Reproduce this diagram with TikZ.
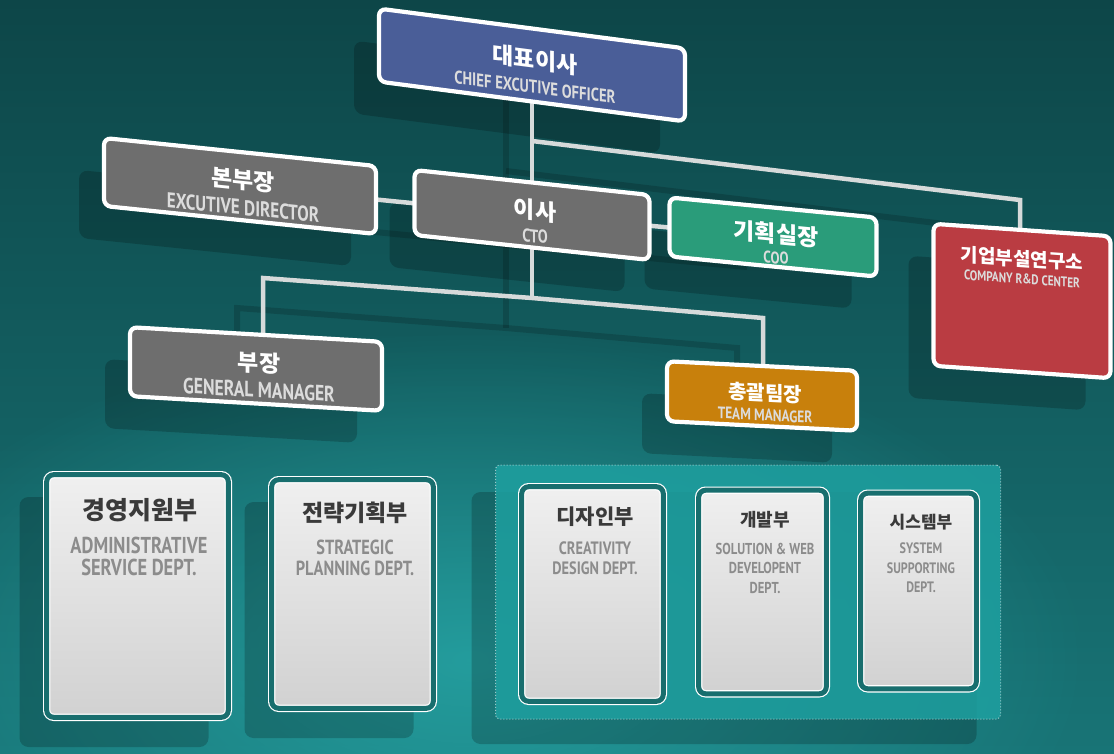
\documentclass[tikz,border=0pt]{standalone}
\usepackage{fontspec}
\newfontfamily\krf{Noto Sans CJK KR}
\newfontfamily\enf[FakeStretch=0.8]{PT Sans}
\usetikzlibrary{fadings,calc}
\pgfdeclarelayer{back}\pgfdeclarelayer{lines}
\pgfsetlayers{back,lines,main}

\definecolor{bgtop}{RGB}{13,70,72}
\definecolor{bgbot}{RGB}{24,116,118}
\definecolor{glowc}{RGB}{40,172,172}
\definecolor{ceoblue}{RGB}{74,94,152}
\definecolor{boxgray}{RGB}{110,110,110}
\definecolor{coogreen}{RGB}{42,156,122}
\definecolor{rndred}{RGB}{186,60,66}
\definecolor{tmorange}{RGB}{200,128,12}
\definecolor{connc}{RGB}{214,218,218}
\definecolor{cardband}{RGB}{24,110,110}
\definecolor{grpfill}{RGB}{30,160,160}
\definecolor{krdark}{RGB}{58,58,58}
\definecolor{engray}{RGB}{140,140,140}
\definecolor{enlight}{RGB}{220,220,220}

\tikzfading[name=glowfade, inner color=transparent!0, outer color=transparent!100]

\newcommand\krtxt[2]{{\krf\bfseries\fontsize{#1}{#1}\selectfont #2}}
\newcommand\entxt[2]{{\enf\bfseries\fontsize{#1}{#1}\selectfont\color{enlight}#2}}

\tikzset{
  orgbox/.style={draw=white, line width=4.2pt, rounded corners=7pt, inner sep=0pt},
  boxtext/.style={align=center, text=white, inner sep=1pt, transform shape},
  card/.style={draw=white, double=cardband, double distance=5pt, line width=1.2pt, rounded corners=7pt,
     top color=white!94!black, bottom color=white!82!black},
  conline/.style={draw=connc, line width=4.5pt},
  connshadow/.style={draw=black, opacity=0.16, line width=6pt},
  cardkr/.style={text=krdark},
  carden/.style={text=engray, align=center},
}

% box: name, center, slope, w, h, fill style, content
\newcommand\orgbox[7]{%
  \begin{scope}[shift={(#2)}, yslant=-#3]
    \node[orgbox, #6, minimum width=#4, minimum height=#5, transform shape] (#1) at (0,0) {};
    \node[boxtext] (#1t) at (3,6) {#7};
  \end{scope}}
% shadow: center, slope, w, h
\newcommand\orgshadow[4]{%
  \begin{scope}[shift={(#1)}, shift={(-25,32)}, yslant=-#2]
    \fill[black, opacity=0.2, rounded corners=9pt] (-#3/2,-#4/2) rectangle (#3/2,#4/2);
  \end{scope}}

\begin{document}
\begin{tikzpicture}[x=1pt, y=-1pt]
\useasboundingbox (0,0) rectangle (1114,754);

\begin{pgfonlayer}{back}
  \shade[top color=bgtop, bottom color=bgbot] (0,0) rectangle (1114,754);
  \fill[glowc, opacity=0.75, path fading=glowfade] (470,660) ellipse [x radius=620, y radius=330];
  \orgshadow{532,65}{0.13}{306}{73}
  \orgshadow{240,186}{0.103}{272}{68}
  \orgshadow{532,215}{0.106}{235}{65}
  \orgshadow{773,237}{0.097}{207}{59}
  \orgshadow{1022,301}{0.07}{177}{142}
  \orgshadow{256,369}{0.058}{252}{69}
  \orgshadow{762,396}{0.05}{190}{60}
  \orgshadow{139,590}{0}{189}{250}
  \orgshadow{354,588}{0}{169}{236}
  \orgshadow{749,586}{0}{505}{252}
\end{pgfonlayer}

% top level boxes
\orgbox{ceo}{532,65}{0.13}{306}{73}{fill=ceoblue}{\krtxt{23}{대표이사}\\[9pt]\entxt{18.4}{CHIEF EXCUTIVE OFFICER}}
\orgbox{exec}{240,186}{0.103}{272}{68}{fill=boxgray}{\krtxt{23}{본부장}\\[8pt]\entxt{21.4}{EXCUTIVE DIRECTOR}}
\orgbox{cto}{532,215}{0.106}{235}{65}{fill=boxgray}{\krtxt{23}{이사}\\[7pt]\entxt{18.5}{CTO}}
\orgbox{coo}{773,237}{0.097}{207}{59}{fill=coogreen}{\krtxt{23}{기획실장}\\[6pt]\entxt{16.8}{COO}}
\begin{scope}[shift={(1022,301)}, yslant=-0.07]
  \node[orgbox, fill=rndred, minimum width=177, minimum height=142, transform shape] (rnd) at (0,0) {};
  \node[boxtext] (rndt) at (0,-34) {\krtxt{19}{기업부설연구소}\\[6pt]\entxt{14}{COMPANY R\&D CENTER}};
\end{scope}
\orgbox{gm}{256,369}{0.058}{252}{69}{fill=boxgray}{\krtxt{23}{부장}\\[7pt]\entxt{22}{GENERAL MANAGER}}
\orgbox{tm}{762,396}{0.05}{190}{60}{fill=tmorange}{\krtxt{20}{총괄팀장}\\[6pt]\entxt{16.6}{TEAM MANAGER}}

% connector bend points
\coordinate (j1) at (532,141);
\coordinate (k1) at (1020,200);
\coordinate (j2) at (532,298);
\coordinate (l1) at (263,278);
\coordinate (r1) at (763,318);

\newcommand\connpaths[1]{%
  \draw[#1] (ceo.center) -- (cto.center);
  \draw[#1] (j1) -- (k1) -- (k1 |- rnd.center);
  \draw[#1] (exec.center) -- (cto.center);
  \draw[#1] (cto.center) -- (coo.center);
  \draw[#1] (cto.center) -- (j2);
  \draw[#1] (l1 |- gm.center) -- (l1) -- (j2) -- (r1) -- (r1 |- tm.center);}

\begin{pgfonlayer}{back}
  \begin{scope}[transform canvas={shift={(-26,30)}}]
    \connpaths{connshadow}
  \end{scope}
\end{pgfonlayer}
\begin{pgfonlayer}{lines}
  \connpaths{conline}
\end{pgfonlayer}

% group of three departments
\node[fill=grpfill, fill opacity=0.85, draw=white, draw opacity=0.55, dotted, line width=1pt,
      rounded corners=4pt, minimum width=505, minimum height=254] (grp) at (748,592) {};

% department cards
\node[card, minimum width=181.6, minimum height=242.6] (adm) at (137.5,596) {};
\node[card, minimum width=161.6, minimum height=228.6] (str) at (352.5,594) {};
\node[card, minimum width=141.6, minimum height=214.6] (des) at (592.5,594) {};
\node[card, minimum width=127.6, minimum height=203.6] (dev) at (762.5,592) {};
\node[card, minimum width=115.6, minimum height=195.6] (sys) at (918.5,591) {};

\node[cardkr, font=\krf\bfseries\fontsize{25}{25}\selectfont] (admk) at (140,510) {경영지원부};
\node[carden, font=\enf\bfseries\fontsize{23}{22}\selectfont] (adme) at (139,556) {ADMINISTRATIVE\\SERVICE DEPT.};
\node[cardkr, font=\krf\bfseries\fontsize{23}{23}\selectfont] (strk) at (355,513) {전략기획부};
\node[carden, font=\enf\bfseries\fontsize{20.4}{21}\selectfont] (stre) at (355,558) {STRATEGIC\\PLANNING DEPT.};
\node[cardkr, font=\krf\bfseries\fontsize{21}{21}\selectfont] (desk) at (595,517) {디자인부};
\node[carden, font=\enf\bfseries\fontsize{17.9}{20}\selectfont] (dese) at (595,558) {CREATIVITY\\DESIGN DEPT.};
\node[cardkr, font=\krf\bfseries\fontsize{18}{18}\selectfont] (devk) at (765,520) {개발부};
\node[carden, font=\enf\bfseries\fontsize{15.8}{19.5}\selectfont] (deve) at (765,568) {SOLUTION \& WEB\\DEVELOPENT\\DEPT.};
\node[cardkr, font=\krf\bfseries\fontsize{17}{17}\selectfont] (sysk) at (921,522) {시스템부};
\node[carden, font=\enf\bfseries\fontsize{15.1}{19.5}\selectfont] (syse) at (921,568) {SYSTEM\\SUPPORTING\\DEPT.};
\end{tikzpicture}
\end{document}
